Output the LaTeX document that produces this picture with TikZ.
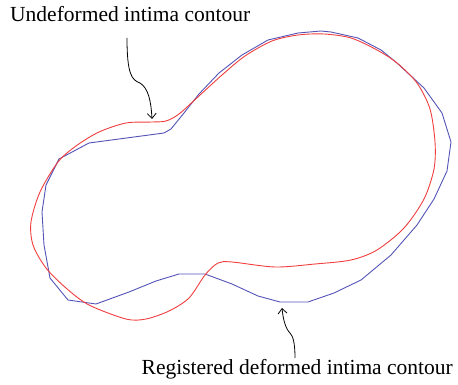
\documentclass[tikz,border=0pt]{standalone}
\usepackage{fontspec}
\setmainfont{Liberation Serif}
\usetikzlibrary{arrows.meta}
\definecolor{cred}{RGB}{240,62,62}
\definecolor{cblue}{RGB}{84,84,184}
\begin{document}
\begin{tikzpicture}[x=1pt,y=-1pt,
  contour/.style={line width=0.9pt, line join=round},
  lbl/.style={font=\fontsize{21.5}{25}\selectfont, inner sep=0pt},
  pointer/.style={line width=0.8pt, -{Straight Barb[length=5pt,width=9pt]}}]
\useasboundingbox (0,0) rectangle (458,385);
% blue (registered deformed) contour
\draw[contour, cblue] (171,129) -- (164,133) -- (89,143) -- (59,159) -- (46,185) -- (42,212) -- (44,245) -- (50,278) -- (68,300) -- (96,304) -- (129,292) -- (156,281) -- (179,274) -- (205,274) -- (232,284) -- (258,296) -- (280,302) -- (308,302) -- (334,293) -- (361,280) -- (391,255) -- (417,225) -- (434,199) -- (447,171) -- (451,142) -- (442,113) -- (424,88) -- (397,63) -- (381,50) -- (358,38) -- (331,32) -- (321,31) -- (298,33) -- (268,40) -- (242,55) -- (219,73) -- (199,94) -- (184,113) -- cycle;
% red (undeformed) contour
\draw[contour, cred] plot[smooth cycle, tension=0.5] coordinates {(179,114) (166,121) (152,122) (126,123) (99,132) (76,146) (58,162) (40,192) (31,222) (33,245) (46,268) (66,288) (89,305) (126,319) (146,319) (169,311) (189,298) (205,275) (218,263) (232,262) (275,267) (315,264) (351,260) (377,250) (404,228) (424,199) (434,169) (435,142) (430,109) (417,83) (397,63) (377,50) (351,38) (324,34) (298,35) (272,41) (245,56) (222,75) (199,96)};
% labels
\node[lbl, anchor=base west] (top) at (10,22) {Undeformed intima contour};
\node[lbl, anchor=base east] (bot) at (453,374) {Registered deformed intima contour};
\coordinate (ts) at (127,38);
\coordinate (tt) at (152,119);
\coordinate (bs) at (295,358);
\coordinate (bt) at (282,308);
\draw[pointer] (ts) .. controls (127,75) and (132,80) .. (140,83) .. controls (148,88) and (151,100) .. (tt);
\draw[pointer] (bs) .. controls (295,343) and (293,336) .. (290,333) .. controls (285,328) and (283,318) .. (bt);
\end{tikzpicture}
\end{document}
